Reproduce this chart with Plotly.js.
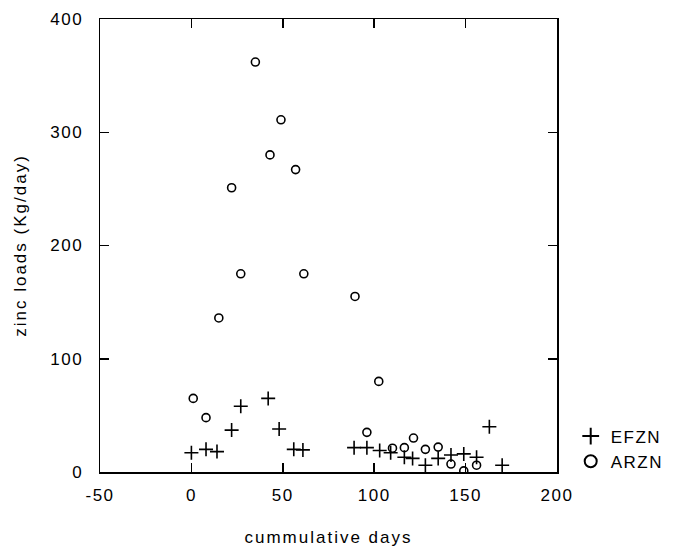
<!DOCTYPE html>
<html>
<head>
<meta charset="utf-8">
<script src="https://cdn.plot.ly/plotly-3.0.1.min.js"></script>
<style>
body{margin:0;padding:0;background:#fff;}
#chart{width:675px;height:548px;}
#chart .xtitle, #chart .ytitle{letter-spacing:2px;}
#chart .xtick text, #chart .ytick text{letter-spacing:1.5px;}
#chart .legendtext{letter-spacing:1.5px;}
</style>
</head>
<body>
<div id="chart"></div>
<script>
// EFZN (+) series
var efznDays  = [0, 8, 14, 22, 27, 42, 48, 56, 61, 89, 96, 103, 109, 116.5, 121, 128, 135, 142, 149, 156, 163, 170];
var efznLoads = [17, 20, 18, 37, 58, 65, 38, 20, 19.5, 21.5, 21.5, 19, 17, 13, 12, 6, 12, 15, 16, 13, 40, 6];
// ARZN (o) series
var arznDays  = [1, 8, 15, 22, 27, 35, 43, 49, 57, 61.5, 89.5, 96, 102.5, 110, 116.5, 121.5, 128, 135, 142, 149, 156];
var arznLoads = [65, 48, 136, 251, 175, 362, 280, 311, 267, 175, 155, 35, 80, 21, 21.5, 30, 20, 22, 7, 1, 6];

var xTicks = [-50, 0, 50, 100, 150, 200];
var yTicks = [0, 100, 200, 300, 400];

var fontFam = 'Liberation Sans, Arial, sans-serif';

var traces = [
  {x: efznDays, y: efznLoads, name: 'EFZN', type: 'scatter', mode: 'markers',
   marker: {symbol: 'cross-thin-open', size: 10, color: '#000', line: {color: '#000', width: 1.6}}},
  {x: arznDays, y: arznLoads, name: 'ARZN', type: 'scatter', mode: 'markers',
   marker: {symbol: 'circle-open', size: 8, color: '#000', line: {color: '#000', width: 1.6}}}
];

var axisCommon = {
  showgrid: false, zeroline: false, showline: true, linecolor: '#000', linewidth: 1.5,
  mirror: 'ticks', ticks: 'inside', ticklen: 9, tickwidth: 1.5, tickcolor: '#000',
  tickfont: {family: fontFam, size: 17, color: '#000'}
};

var layout = {
  width: 675, height: 548,
  margin: {l: 100, r: 115, t: 19, b: 76},
  paper_bgcolor: '#fff', plot_bgcolor: '#fff',
  showlegend: true,
  legend: {x: 1.03, y: 0.118, xanchor: 'left', yanchor: 'top', font: {family: fontFam, size: 17, color: '#000'},
           bgcolor: 'rgba(0,0,0,0)', itemsizing: 'constant', tracegroupgap: 0},
  xaxis: Object.assign({}, axisCommon, {range: [-50, 200], tickvals: xTicks, ticktext: xTicks.map(String),
    ticklabelstandoff: 7,
    title: {text: 'cummulative days', font: {family: fontFam, size: 17, color: '#000'}, standoff: 27}}),
  yaxis: Object.assign({}, axisCommon, {range: [0, 400], tickvals: yTicks, ticktext: yTicks.map(String),
    ticklabelstandoff: 12,
    title: {text: 'zinc loads (Kg/day)', font: {family: fontFam, size: 17, color: '#000'}, standoff: 24}})
};

Plotly.newPlot('chart', traces, layout, {displayModeBar: false, staticPlot: true});
</script>
</body>
</html>
